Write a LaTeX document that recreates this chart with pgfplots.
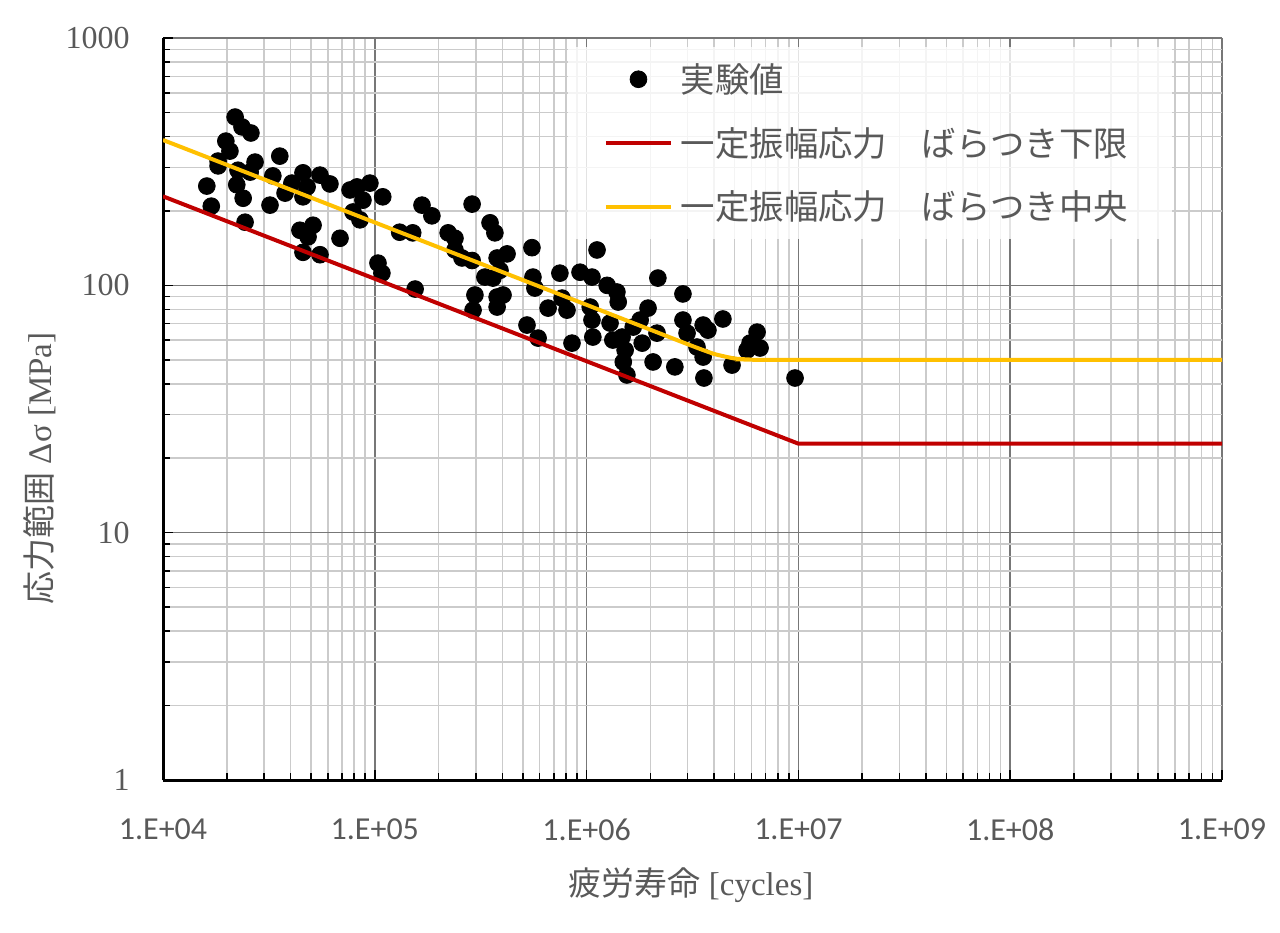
\documentclass[border=0pt]{standalone}
\usepackage{pgfplots}
\pgfplotsset{compat=1.18}
\usepackage{fontspec}
\setmainfont{Liberation Serif}
\newfontfamily\cjk{Noto Sans CJK JP}
\newfontfamily\tickx{Carlito}
\definecolor{txtgray}{HTML}{595959}
\definecolor{lred}{HTML}{C00000}
\definecolor{lorange}{HTML}{FFC000}
\definecolor{majgrid}{HTML}{777777}
\definecolor{mingrid}{HTML}{CBCBCB}
\pgfplotsset{
  mylineleg/.style={legend image code/.code={\draw[##1, draw opacity=1] (0pt,0pt) -- (32.5pt,0pt);}},
  mymarkleg/.style={legend image code/.code={\draw[##1, fill opacity=1, draw opacity=1] plot coordinates {(16.25pt,0pt)};}},
}
\begin{document}
\begin{tikzpicture}
\begin{axis}[
  scale only axis,
  width=529.5pt, height=371pt,
  xmode=log, ymode=log,
  log basis x=10, log basis y=10,
  xmin=1e4, xmax=1e9, ymin=1, ymax=1000,
  axis x line*=bottom, axis y line*=left,
  axis line style={-, black, line width=1.5pt},
  tick align=inside,
  major tick length=5pt, minor tick length=3.5pt,
  every tick/.style={black, line width=0.8pt},
  grid=both,
  major grid style={majgrid, line width=0.8pt},
  minor grid style={mingrid, line width=0.8pt},
  xticklabel={\pgfmathparse{int(round(\tick))}1.E+0\pgfmathresult},
  yticklabel={\pgfmathparse{int(round(10^\tick))}\pgfmathresult},
  xticklabel style={font=\tickx\fontsize{16}{18}\selectfont, text=txtgray, anchor=north, inner sep=0pt, yshift=-19pt},
  yticklabel style={font=\fontsize{16}{18}\selectfont, text=txtgray, anchor=east, inner sep=0pt, xshift=-16.5pt},
  xlabel={{\cjk 疲労寿命} [cycles]},
  ylabel={{\cjk 応力範囲} Δσ [MPa]},
  xlabel style={font=\fontsize{16.5}{19}\selectfont, text=txtgray, at={(axis description cs:0.4986,-0.1415)}, anchor=center},
  ylabel style={font=\fontsize{16.5}{19}\selectfont, text=txtgray, at={(axis description cs:-0.1161,0.42)}, anchor=center},
  legend cell align=left,
  legend style={at={(rel axis cs:0.382,0.988)}, anchor=north west, draw=none,
    fill=white, fill opacity=0.8, text opacity=1, text=txtgray,
    font=\cjk\fontsize{17.2}{19}\selectfont,
    inner xsep=18pt, inner ysep=6pt, row sep=12pt,
    nodes={inner xsep=4pt}},
  clip mode=individual,
]
\addplot[only marks, mark=*, mark size=4.2pt, black, mymarkleg]
 table[row sep=\\] {
x y\\
2.19e4 479\\ 2.36e4 437\\ 2.60e4 413\\ 1.98e4 383\\ 2.07e4 349\\
1.82e4 318\\ 1.82e4 304\\ 1.61e4 252\\ 1.69e4 209\\ 2.26e4 292\\
2.23e4 255\\ 2.39e4 225\\ 2.44e4 180\\ 2.58e4 287\\ 2.72e4 315\\
3.30e4 277\\ 3.56e4 333\\ 3.20e4 211\\ 3.77e4 236\\ 4.06e4 259\\
4.58e4 285\\ 4.79e4 250\\ 4.58e4 228\\ 5.51e4 279\\ 6.14e4 257\\
4.43e4 167\\ 5.11e4 175\\ 4.84e4 157\\ 4.58e4 136\\ 5.51e4 133\\
6.85e4 155\\ 7.64e4 243\\ 8.24e4 250\\ 8.79e4 221\\ 9.48e4 259\\
1.09e5 228\\ 7.89e4 198\\ 8.51e4 184\\ 1.035e5 123\\ 1.08e5 112\\
1.31e5 164\\ 1.51e5 163\\ 1.55e5 96.6\\ 1.67e5 211\\ 1.86e5 191\\
2.88e5 213\\ 3.50e5 179\\ 3.69e5 163\\ 2.22e5 163\\ 2.39e5 155\\
2.39e5 139\\ 2.58e5 129\\ 2.88e5 126\\ 3.78e5 129\\ 4.21e5 134\\
3.90e5 115\\ 3.31e5 108\\ 3.61e5 107\\ 2.97e5 91.4\\ 2.91e5 79.4\\
3.78e5 89.7\\ 4.03e5 91.4\\ 3.78e5 81.7\\ 5.52e5 142\\ 5.58e5 108\\
5.70e5 97.5\\ 7.48e5 112\\ 9.31e5 113\\ 1.06e6 108\\ 1.12e6 139\\
7.66e5 88.8\\ 6.58e5 80.9\\ 8.08e5 79.4\\ 5.23e5 69.1\\ 5.90e5 61.2\\
8.53e5 58.4\\ 1.04e6 81.7\\ 1.06e6 72.4\\ 1.07e6 61.8\\ 1.25e6 100\\
1.39e6 94\\ 1.41e6 85.6\\ 1.29e6 70.4\\ 1.33e6 60.1\\ 1.47e6 61.8\\
1.52e6 54.7\\ 1.49e6 49.0\\ 1.55e6 43.4\\ 1.66e6 67.8\\ 1.79e6 72.4\\
1.95e6 80.9\\ 1.83e6 58.4\\ 2.06e6 49.0\\ 2.15e6 64.1\\ 2.17e6 107\\
2.85e6 92.3\\ 2.85e6 72.4\\ 2.98e6 64.1\\ 2.61e6 46.8\\ 3.32e6 56.3\\
3.55e6 51.3\\ 3.55e6 69.1\\ 3.74e6 65.9\\ 4.40e6 73.1\\ 3.58e6 42.2\\
4.86e6 47.6\\ 6.38e6 64.7\\ 5.91e6 58.4\\ 5.72e6 54.7\\ 6.59e6 55.8\\
9.64e6 42.2\\
};
\addlegendentry{実験値}
\addplot[lred, line width=2pt, mylineleg]
 coordinates {(1e4,229) (1e7,22.9) (1e9,22.9)};
\addlegendentry{一定振幅応力　ばらつき下限}
\addplot[lorange, line width=2pt, smooth, tension=0.3, mylineleg]
 coordinates {(1e4,387) (1e5,179.6) (1e6,83.4) (3e6,57.8) (4e6,52.8) (5e6,50.6) (6e6,50.1) (7e6,50) (1e8,50) (1e9,50)};
\addlegendentry{一定振幅応力　ばらつき中央}
\coordinate (sw) at (rel axis cs:0,0);
\coordinate (ne) at (rel axis cs:1,1);
\end{axis}
\path ([shift={(-81.5pt,-76pt)}]sw) rectangle ([shift={(29pt,19pt)}]ne);
\end{tikzpicture}
\end{document}
